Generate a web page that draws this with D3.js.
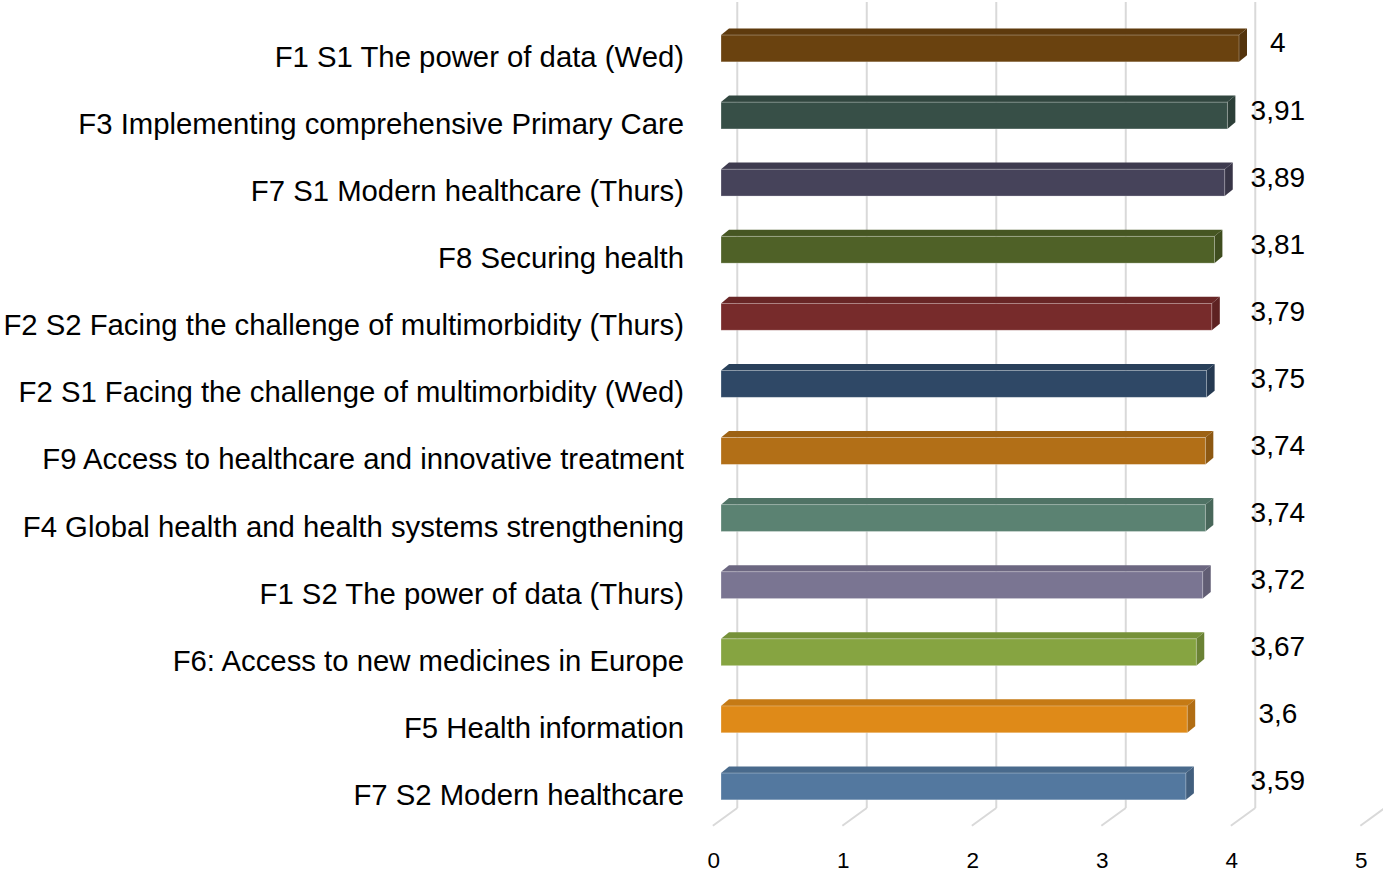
<!DOCTYPE html>
<meta charset="utf-8">
<style>
body { margin: 0; background: #fff; }
text { font-family: Arial, "Liberation Sans", sans-serif; fill: #000; }
.cat { font-size: 29.3px; }
.val { font-size: 28px; }
.tick { font-size: 22.5px; }
</style>
<script src="https://d3js.org/d3.v7.min.js"></script>
<svg width="1383" height="875"></svg>
<script>

var categories = [
  "F1 S1 The power of data (Wed)",
  "F3 Implementing comprehensive Primary Care",
  "F7 S1 Modern healthcare (Thurs)",
  "F8 Securing health",
  "F2 S2 Facing the challenge of multimorbidity (Thurs)",
  "F2 S1 Facing the challenge of multimorbidity (Wed)",
  "F9 Access to healthcare and innovative treatment",
  "F4 Global health and health systems strengthening",
  "F1 S2 The power of data (Thurs)",
  "F6: Access to new medicines in Europe",
  "F5 Health information",
  "F7 S2 Modern healthcare"
];
var values = [4, 3.91, 3.89, 3.81, 3.79, 3.75, 3.74, 3.74, 3.72, 3.67, 3.6, 3.59];
var valueLabels = ["4", "3,91", "3,89", "3,81", "3,79", "3,75", "3,74", "3,74", "3,72", "3,67", "3,6", "3,59"];
var barColors = ["#6a420f", "#374f47", "#46435a", "#4f6127", "#772b2b", "#2f4866",
                 "#b26f17", "#5b8272", "#7a7592", "#86a441", "#df8a18", "#53789f"];
var ticks = [0, 1, 2, 3, 4, 5];

var svg = d3.select("svg");

var data = categories.map(function(c, i) {
  return { name: c, value: values[i], label: valueLabels[i], color: barColors[i] };
});

// front face of the bars
var x = d3.scaleLinear().domain([0, 5]).range([721, 1368.5]);
var y = d3.scaleBand().domain(categories).range([14.9, 820]).paddingInner(0.6).paddingOuter(0.3);

// depth of the 3d box: floor runs from front (-8) to back (+16)
var depth = { dx: 24.4, dy: -17.7 };
var floorY = 808;

// back wall gridlines
svg.append("g").selectAll("line")
  .data(ticks)
  .enter().append("line")
    .attr("x1", function(d) { return x(d) + depth.dx * 2 / 3; })
    .attr("x2", function(d) { return x(d) + depth.dx * 2 / 3; })
    .attr("y1", 2)
    .attr("y2", floorY)
    .attr("stroke", "#d9d9d9")
    .attr("stroke-width", 2);

// floor lines
svg.append("g").selectAll("line")
  .data(ticks)
  .enter().append("line")
    .attr("x1", function(d) { return x(d) + depth.dx * 2 / 3; })
    .attr("y1", floorY)
    .attr("x2", function(d) { return x(d) - depth.dx / 3; })
    .attr("y2", floorY - depth.dy)
    .attr("stroke", "#d9d9d9")
    .attr("stroke-width", 2);

// tick labels
svg.append("g").selectAll("text")
  .data(ticks)
  .enter().append("text")
    .attr("class", "tick")
    .attr("x", function(d) { return x(d) - depth.dx / 3 + 1; })
    .attr("y", 868)
    .attr("text-anchor", "middle")
    .text(function(d) { return d; });

// bars
var bdx = 8, bdy = -6.6;
var bar = svg.append("g").selectAll("g")
  .data(data)
  .enter().append("g");

bar.append("path")
  .attr("fill", function(d) { return d3.color(d.color).darker(0.35); })
  .attr("d", function(d) {
    var x0 = x(0), x1 = x(d.value), y0 = y(d.name);
    return "M" + x0 + "," + y0 + "L" + (x0 + bdx) + "," + (y0 + bdy) +
      "L" + (x1 + bdx) + "," + (y0 + bdy) + "L" + x1 + "," + y0 + "Z";
  });

bar.append("path")
  .attr("fill", function(d) { return d3.color(d.color).darker(0.65); })
  .attr("d", function(d) {
    var x1 = x(d.value), y0 = y(d.name), h = y.bandwidth();
    return "M" + x1 + "," + y0 + "L" + (x1 + bdx) + "," + (y0 + bdy) +
      "L" + (x1 + bdx) + "," + (y0 + h + bdy) + "L" + x1 + "," + (y0 + h) + "Z";
  });

bar.append("rect")
  .attr("x", x(0))
  .attr("y", function(d) { return y(d.name); })
  .attr("width", function(d) { return x(d.value) - x(0); })
  .attr("height", y.bandwidth())
  .attr("fill", function(d) { return d.color; })
  .attr("stroke", "#fff")
  .attr("stroke-opacity", 0.35)
  .attr("stroke-width", 0.8);

// value labels
bar.append("text")
  .attr("class", "val")
  .attr("x", x(4.3))
  .attr("y", function(d) { return y(d.name) + y.bandwidth() / 2 + 4; })
  .attr("text-anchor", "middle")
  .text(function(d) { return d.label; });

// category labels
svg.append("g").selectAll("text")
  .data(data)
  .enter().append("text")
    .attr("class", "cat")
    .attr("x", 684)
    .attr("y", function(d) { return y(d.name) + y.bandwidth() / 2 + 18.5; })
    .attr("text-anchor", "end")
    .text(function(d) { return d.name; });

</script>
